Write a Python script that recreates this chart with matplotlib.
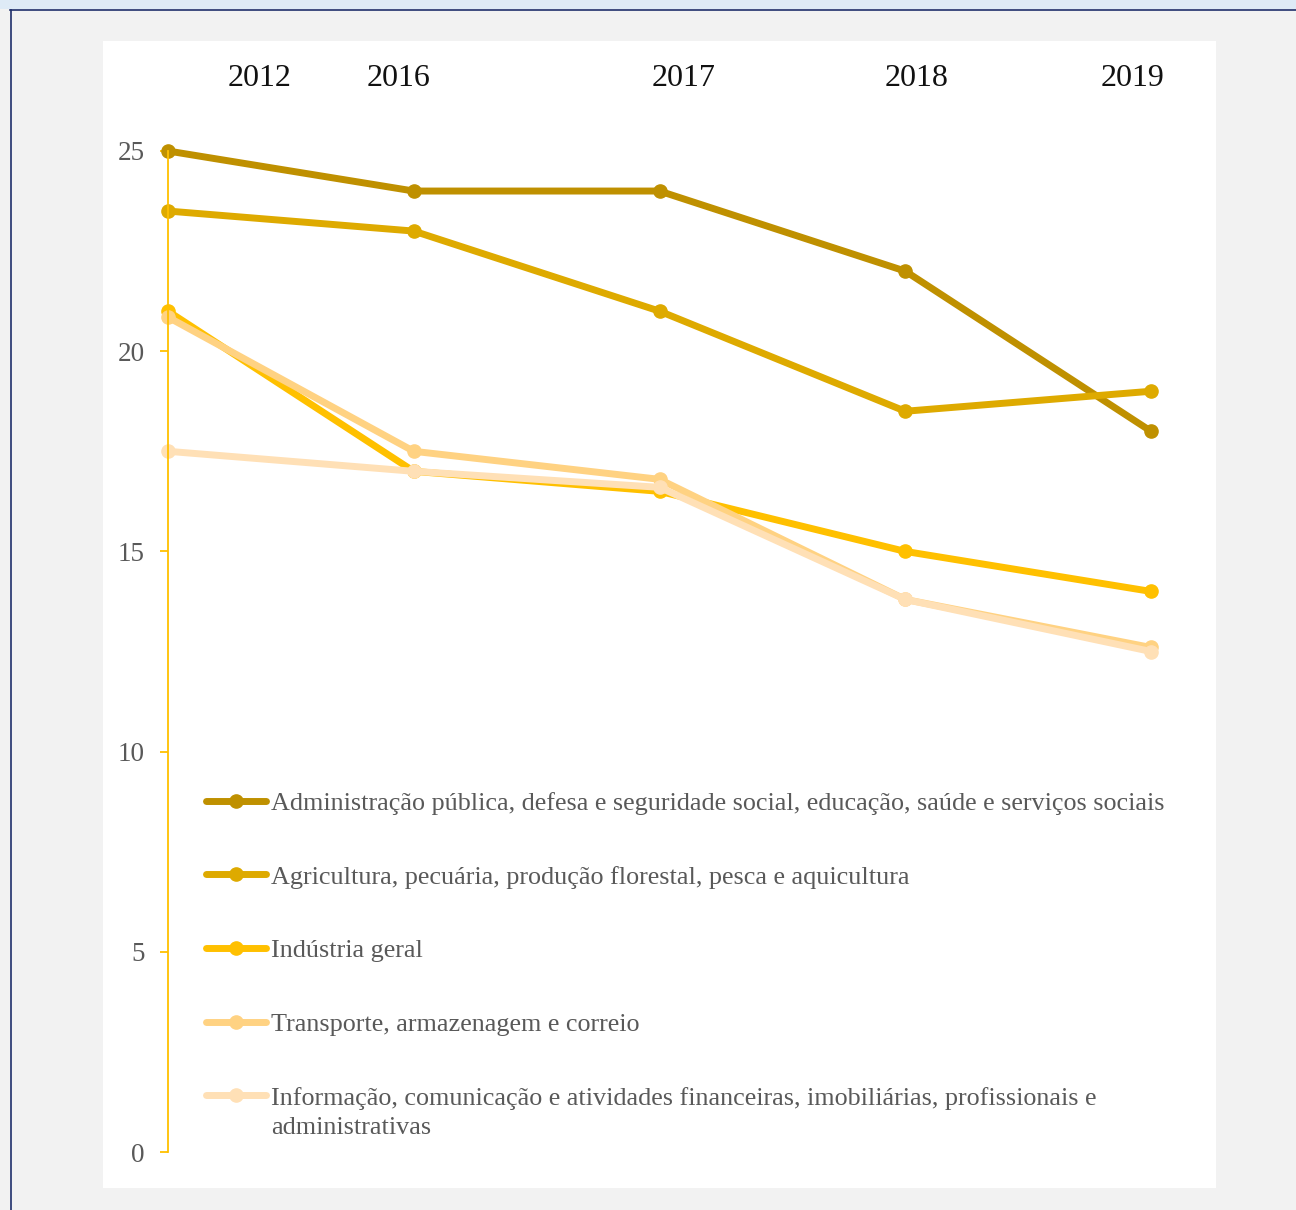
import matplotlib
matplotlib.use("Agg")
import matplotlib.pyplot as plt
from matplotlib.patches import Rectangle
from matplotlib.lines import Line2D

plt.rcParams['font.family'] = ['Liberation Serif', 'DejaVu Serif']

# Data
years = ["2012", "2016", "2017", "2018", "2019"]
admin = [25.0, 24.0, 24.0, 22.0, 18.0]
agricultura = [23.5, 23.0, 21.0, 18.5, 19.0]
industria = [21.0, 17.0, 16.5, 15.0, 14.0]
transporte = [20.85, 17.5, 16.8, 13.8, 12.6]
informacao = [17.5, 17.0, 16.6, 13.8, 12.5]

labels = [
    "Administração pública, defesa e seguridade social, educação, saúde e serviços sociais",
    "Agricultura, pecuária, produção florestal, pesca e aquicultura",
    "Indústria geral",
    "Transporte, armazenagem e correio",
    "Informação, comunicação e atividades financeiras, imobiliárias, profissionais e",
]
label_tail = "administrativas"  # second line of the last legend entry
colors = ["#BF9000", "#DEAA00", "#FFC000", "#FFD282", "#FFE0B6"]
series = [admin, agricultura, industria, transporte, informacao]

# header year labels sit a bit off the point columns
year_label_x = [0.374, 0.939, 2.096, 3.048, 3.927]

W, H = 1296, 1210
fig = plt.figure(figsize=(W / 100, H / 100), dpi=100)
fig.patch.set_facecolor("#F2F2F2")

# page frame: blue strip on top, navy rules, white chart panel
fig.add_artist(Rectangle((0, 1 - 9 / H), 1, 9 / H, transform=fig.transFigure,
                         facecolor="#DEEAF6", edgecolor="none", zorder=-3))
fig.add_artist(Line2D([10 / W, 1], [1 - 9.5 / H, 1 - 9.5 / H], transform=fig.transFigure,
                      color="#1F2F6B", lw=1.2, zorder=-2))
fig.add_artist(Line2D([10.5 / W, 10.5 / W], [0, 1 - 9.5 / H], transform=fig.transFigure,
                      color="#1F2F6B", lw=1.2, zorder=-2))
fig.add_artist(Rectangle((103 / W, 1 - 1188 / H), (1216 - 103) / W, (1188 - 41) / H,
                         transform=fig.transFigure, facecolor="white", edgecolor="none",
                         zorder=-3))

x0, x1 = 168, 1151
y0, y1 = 151, 1152
ax = fig.add_axes([x0 / W, 1 - y1 / H, (x1 - x0) / W, (y1 - y0) / H])
ax.set_facecolor("none")

x = list(range(len(years)))
for vals, lab, col in zip(series, labels, colors):
    ax.plot(x, vals, color=col, lw=5, marker="o", markersize=9.5,
            label=lab, clip_on=False, solid_capstyle="round")

ax.set_xlim(0, 4)
ax.set_ylim(0, 25)
ax.set_yticks([0, 5, 10, 15, 20, 25])
ax.set_xticks([])
for s in ["top", "right", "bottom"]:
    ax.spines[s].set_visible(False)
ax.spines["left"].set_color("#FFC000")
ax.spines["left"].set_linewidth(1.3)
ax.tick_params(axis="y", length=6, width=1.3, color="#FFC000", pad=11,
               labelsize=19.5, labelcolor="#595959")

for xp, yr in zip(year_label_x, years):
    ax.text(xp, 1.072, yr, transform=ax.get_xaxis_transform(), ha="center", va="center",
            fontsize=23, color="#111111")

leg = ax.legend(loc="upper left", bbox_to_anchor=(0.039, 0.360), frameon=False,
                fontsize=18.8, handlelength=2.3, handletextpad=0.19,
                labelspacing=1.93, borderaxespad=0, borderpad=0)
for t in leg.get_texts():
    t.set_color("#595959")

# second line of the last entry, placed under its first line
fig.canvas.draw()
ext = leg.get_texts()[-1].get_window_extent()
fig.text(ext.x0 / W, (ext.y1 - 30) / H, label_tail, ha="left", va="top",
         fontsize=18.8, color="#595959")

fig.savefig("out.png", dpi=100, facecolor=fig.get_facecolor())
